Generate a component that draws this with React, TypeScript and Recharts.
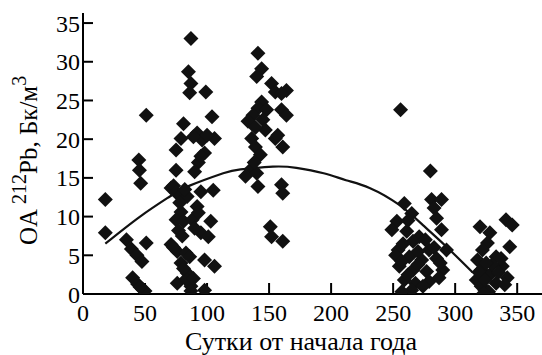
import React from 'react';
import { ComposedChart, XAxis, YAxis, Scatter, Line, Label } from 'recharts';

// day of year for each measurement
const pointDays = [
    18, 18,
    51, 45, 45.5, 46.5, 35, 39, 43.5, 47.5, 51, 40, 44, 48, 50, 46,
    87, 85, 87, 86, 99, 104, 81, 79, 92, 96, 89, 106, 100, 98, 75, 93, 90, 95, 75, 71,
    73, 75, 79, 84, 95, 105, 92, 79, 75, 81, 88, 95, 103, 101, 71, 76, 83, 79, 98, 106,
    84, 76, 87, 87, 98, 83, 73, 77, 80, 90, 93, 86, 81, 89, 78, 82,
    141, 144, 140, 152, 155, 164, 160, 144, 141, 148, 160, 164, 137, 133, 145, 147, 136,
    155, 161, 139, 143, 136, 140, 131, 141, 160, 161, 151, 152, 161, 139, 138, 157,
    256, 280, 259, 281, 289, 283, 265, 285, 253, 249, 261, 289, 271, 266, 254, 279, 293,
    263, 273, 285, 255, 266, 277, 290, 259, 268, 279, 265, 257, 287, 252, 258, 270, 276,
    262, 283, 274, 270, 288, 262, 257,
    320, 341, 346, 344, 328, 326, 322, 333, 318, 338, 321, 328, 342, 317, 333, 324, 321,
    340, 330, 325, 319, 335, 324, 327, 337, 323,
];

// activity of 212Pb, Bq/m3
const pointValues = [
    12.2, 7.9,
    23.1, 17.3, 16.0, 14.3, 7.0, 5.8, 5.0, 4.2, 6.6, 2.1, 1.3, 0.6, 0.4, 0.9,
    33.0, 28.7, 27.2, 26.0, 26.1, 22.9, 22.0, 20.1, 20.8, 19.9, 20.3, 20.1, 20.5, 18.2, 18.6, 17.0, 15.8, 17.8, 16.0, 13.7,
    14.0, 13.1, 12.8, 12.6, 13.2, 13.4, 11.3, 10.6, 9.6, 9.4, 9.6, 7.9, 9.4, 7.4, 6.4, 5.5, 5.3, 4.0, 4.4, 3.6,
    2.7, 1.4, 1.0, 0.4, 0.5, 1.9, 6.0, 8.2, 7.5, 8.5, 10.5, 4.8, 3.3, 2.0, 11.8, 13.5,
    31.1, 29.1, 28.1, 27.2, 26.1, 26.3, 25.9, 24.8, 24.0, 23.8, 23.8, 23.1, 23.1, 22.3, 22.5, 21.2, 20.1,
    20.1, 19.0, 19.0, 18.0, 16.2, 15.6, 15.2, 13.9, 14.1, 13.0, 8.7, 7.4, 6.8, 21.5, 17.0, 20.5,
    23.8, 15.9, 11.7, 12.2, 12.2, 11.1, 10.4, 9.8, 9.4, 8.3, 8.1, 8.3, 7.4, 6.8, 5.7, 5.7, 5.7,
    4.8, 4.4, 4.6, 3.6, 3.1, 2.9, 3.1, 1.8, 1.4, 1.6, 0.5, 0.3, 2.1, 5.0, 6.5, 5.5, 7.0,
    2.5, 6.0, 1.0, 3.8, 4.0, 9.5, 4.2,
    8.7, 9.6, 8.9, 6.1, 7.9, 6.6, 5.7, 4.8, 4.4, 3.6, 3.1, 2.5, 2.1, 1.8, 1.4, 0.5, 1.0,
    1.2, 3.8, 4.0, 2.8, 2.8, 1.8, 0.3, 4.6, 0.1,
];

// fitted curve
const curveDays = [18, 46, 70, 86, 113, 127, 153, 172, 194, 212, 231, 255, 274, 293, 314];
const curveValues = [6.5, 10.0, 12.6, 14.0, 15.6, 16.1, 16.45, 16.3, 15.6, 14.7, 13.7, 11.5, 8.9, 6.1, 2.8];

const xTicks = [0, 50, 100, 150, 200, 250, 300, 350];
const yTicks = [0, 5, 10, 15, 20, 25, 30, 35];

const xTitle = 'Сутки от начала года';

const points = pointDays.map((d, i) => ({ d, v: pointValues[i] }));
const curve = curveDays.map((d, i) => ({ d, v: curveValues[i] }));

const serif = 'Liberation Serif';

const Diamond = (props: any) => {
    const { cx, cy } = props;
    if (cx == null || cy == null) return null;
    const r = 7.5;
    return (
        <polygon
            points={`${cx},${cy - r} ${cx + r},${cy} ${cx},${cy + r} ${cx - r},${cy}`}
            fill="#111"
        />
    );
};

const App = () => {
    return (
        <div style={{ position: 'absolute', left: 0, top: 0, background: '#fff' }}>
            <ComposedChart
                width={542}
                height={355}
                margin={{ top: 13, right: 0, bottom: 0, left: 0 }}
            >
                <XAxis
                    type="number"
                    dataKey="d"
                    domain={[0, 370]}
                    allowDataOverflow
                    ticks={xTicks}
                    height={61}
                    axisLine={{ stroke: '#000', strokeWidth: 2 }}
                    tickLine={{ stroke: '#000', strokeWidth: 2 }}
                    tickSize={-11}
                    tickMargin={21}
                    tick={{ fill: '#000', fontSize: 24, fontFamily: serif }}
                >
                    <Label
                        content={() => (
                            <text x={301} y={350} textAnchor="middle" fontSize={26} fontFamily={serif} fill="#000">
                                {xTitle}
                            </text>
                        )}
                    />
                </XAxis>
                <YAxis
                    type="number"
                    dataKey="v"
                    domain={[0, 36.3]}
                    allowDataOverflow
                    ticks={yTicks}
                    width={83}
                    axisLine={{ stroke: '#000', strokeWidth: 2 }}
                    tickLine={{ stroke: '#000', strokeWidth: 2 }}
                    tickSize={-10}
                    tickMargin={13}
                    tick={{ fill: '#000', fontSize: 24, fontFamily: serif }}
                >
                    <Label
                        content={() => (
                            <text
                                x={37}
                                y={245}
                                transform="rotate(-90 37 245)"
                                textAnchor="start"
                                fontSize={25}
                                fontFamily={serif}
                                fill="#000"
                            >
                                OA{' '}
                                <tspan dy={-11} fontSize={20}>212</tspan>
                                <tspan dy={11}>Pb, Бк/м</tspan>
                                <tspan dy={-11} fontSize={20}>3</tspan>
                            </text>
                        )}
                    />
                </YAxis>
                <Scatter data={points} dataKey="v" shape={Diamond} isAnimationActive={false} />
                <Line
                    data={curve}
                    dataKey="v"
                    type="natural"
                    dot={false}
                    stroke="#111"
                    strokeWidth={2.2}
                    isAnimationActive={false}
                />
            </ComposedChart>
        </div>
    );
};

export default App;
